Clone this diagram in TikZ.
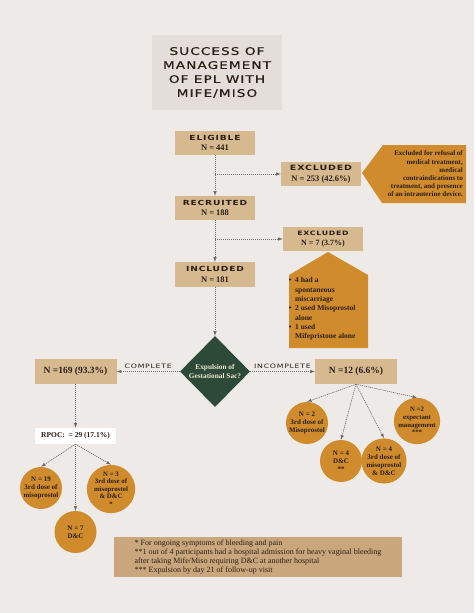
\documentclass[tikz,border=0pt]{standalone}
\usepackage{fontspec}
\setmainfont{Liberation Serif}
\newfontfamily\headfont{DejaVu Sans}[FakeStretch=1.3,LetterSpace=12]
\newfontfamily\titlefont{DejaVu Sans}[FakeStretch=1.3,LetterSpace=10,FakeBold=0.6]
\usepackage{tikz}
\usetikzlibrary{shapes}

\definecolor{bgcol}{HTML}{EDEAE7}
\definecolor{titlecol}{HTML}{E3DED9}
\definecolor{tancol}{HTML}{D6B98F}
\definecolor{orangecol}{HTML}{D08B2C}
\definecolor{greencol}{HTML}{2D4A39}
\definecolor{notecol}{HTML}{C9A67C}
\definecolor{inkcol}{HTML}{2A1F16}
\definecolor{linecol}{HTML}{6F6A66}
\definecolor{creamcol}{HTML}{EFE7D2}

% caps headings in the wide sans
\newcommand{\hd}[2][7]{{\headfont\fontsize{#1}{#1}\selectfont #2}}

\begin{document}
\begin{tikzpicture}[x=1pt,y=-1pt,
    tanbox/.style={rectangle,fill=tancol,text=inkcol,minimum width=80pt,minimum height=24pt,
      inner sep=1pt,align=center,font=\bfseries\fontsize{8.5}{10.5}\selectfont},
    ball/.style={circle,fill=orangecol,text=inkcol,minimum size=42pt,inner sep=0pt,
      align=center,font=\bfseries\fontsize{7}{8}\selectfont},
    flow/.style={draw=linecol,line width=0.6pt,dash pattern=on 1.2pt off 0.8pt,->,>=latex},
    lbl/.style={text=inkcol,font=\headfont\fontsize{6}{7}\selectfont,inner sep=2.5pt}]

        \fill[bgcol] (0,0) rectangle (474,613);

        \node[fill=titlecol,minimum width=130pt,minimum height=75pt,inner sep=0pt,align=center,
          text=inkcol,font=\titlefont\fontsize{10.5}{14}\selectfont] (title) at (217,72.5)
          {SUCCESS OF\\MANAGEMENT\\OF EPL WITH\\MIFE/MISO};

        % flow boxes
        \node[tanbox] (eligible) at (215,143) {\hd{ELIGIBLE}\\N = 441};
        \node[tanbox] (recruited) at (215,208) {\hd{RECRUITED}\\N = 188};
        \node[tanbox,minimum height=25pt] (included) at (215,274.5) {\hd{INCLUDED}\\N = 181};
        \node[tanbox] (excl1) at (321,174) {\hd[7.3]{EXCLUDED}\\N = 253 (42.6\%)};

        % callouts
        \fill[orangecol] (362,173) -- (383,145) -- (466,145) -- (466,203) -- (382,203) -- cycle;
        \node[anchor=east,align=right,text=inkcol,inner sep=0pt,
          font=\bfseries\fontsize{7}{8.2}\selectfont] (why1) at (463,174)
          {Excluded for refusal of\\medical treatment,\\medical\\contraindications to\\treatment, and presence\\of an intrauterine device.};
        \fill[orangecol] (328,252) -- (368,275) -- (368,348) -- (289,348) -- (289,275) -- cycle;
        \node[anchor=west,align=left,text=inkcol,inner sep=0pt,
          font=\bfseries\fontsize{7.5}{9.3}\selectfont] (why2) at (295,309)
          {\llap{\textbullet\ \ }4 had a\\spontaneous\\miscarriage\\\llap{\textbullet\ \ }2 used Misoprostol\\alone\\\llap{\textbullet\ \ }1 used\\Mifepristone alone};
        \node[tanbox,font=\bfseries\fontsize{8}{10}\selectfont] (excl2) at (323,239) {\hd[6]{EXCLUDED}\\N = 7 (3.7\%)};

        % decision
        \node[diamond,fill=greencol,text=creamcol,minimum width=70pt,minimum height=71pt,inner sep=0pt,
          align=center,font=\bfseries\fontsize{7.3}{9}\selectfont] (sac) at (215,371.5)
          {Expulsion of\\Gestational Sac?};
        \node[tanbox,minimum width=82pt,minimum height=25pt,font=\bfseries\fontsize{9.5}{11}\selectfont]
          (complete) at (75.5,371.5) {N =169 (93.3\%)};
        \node[tanbox,minimum width=82pt,minimum height=25pt,font=\bfseries\fontsize{9.5}{11}\selectfont]
          (incomplete) at (356,371.5) {N =12 (6.6\%)};
        \node[tanbox,fill=white,minimum width=81pt,minimum height=16pt,font=\bfseries\fontsize{7.5}{9}\selectfont]
          (rpoc) at (75.5,436) {RPOC: \ = 29 (17.1\%)};

        % outcomes
        \node[ball] (c19) at (41,488) {N = 19\\3rd dose of\\misoprostol};
        \node[ball] (c7) at (75.5,532) {N = 7\\D\&C};
        \node[ball,font=\bfseries\fontsize{6.8}{7.5}\selectfont] (c3) at (111,489)
          {N = 3\\3rd dose of\\misoprostol\\\& D\&C\\*};
        \node[ball] (m2) at (307,423) {N = 2\\3rd dose of\\Misoprostol};
        \node[ball] (d4) at (341,461) {N = 4\\D\&C\\**};
        \node[ball] (m4) at (384,461) {N = 4\\3rd dose of\\misoprostol\\\& D\&C};
        \node[ball,font=\bfseries\fontsize{6.8}{7.6}\selectfont] (e2) at (417,421) {N =2\\expectant\\management\\***};

        \node[fill=notecol,minimum width=288pt,minimum height=40pt,inner sep=2pt,align=left,
          text=inkcol,font=\fontsize{8}{9.2}\selectfont] (notes) at (258,557)
          {* For ongoing symptoms of bleeding and pain\\**1 out of 4 participants had a hospital admission for heavy vaginal bleeding\\after taking Mife/Miso requiring D\&C at another hospital\\*** Expulsion by day 21 of follow-up visit};

        % connectors
        \coordinate (b1) at (eligible.south |- excl1.west);
        \coordinate (b2) at (recruited.south |- excl2.west);
        \draw[flow] (eligible) -- (recruited);
        \draw[flow] (b1) -- (excl1);
        \draw[flow] (recruited) -- (included);
        \draw[flow] (b2) -- (excl2);
        \draw[flow] (included) -- (sac);
        \draw[flow] (sac) -- node[above,lbl] {COMPLETE} (complete);
        \draw[flow] (sac) -- node[above,lbl] {INCOMPLETE} (incomplete);
        \draw[flow] (complete) -- (rpoc);
        \draw[flow] (rpoc.south) -- (c19.north);
        \draw[flow] (rpoc.south) -- (c7.north);
        \draw[flow] (rpoc.south) -- (c3.north);
        \draw[flow] (incomplete.south) -- (m2.north);
        \draw[flow] (incomplete.south) -- (d4.north);
        \draw[flow] (incomplete.south) -- (m4.north);
        \draw[flow] (incomplete.south) -- (e2.north);
\end{tikzpicture}
\end{document}
